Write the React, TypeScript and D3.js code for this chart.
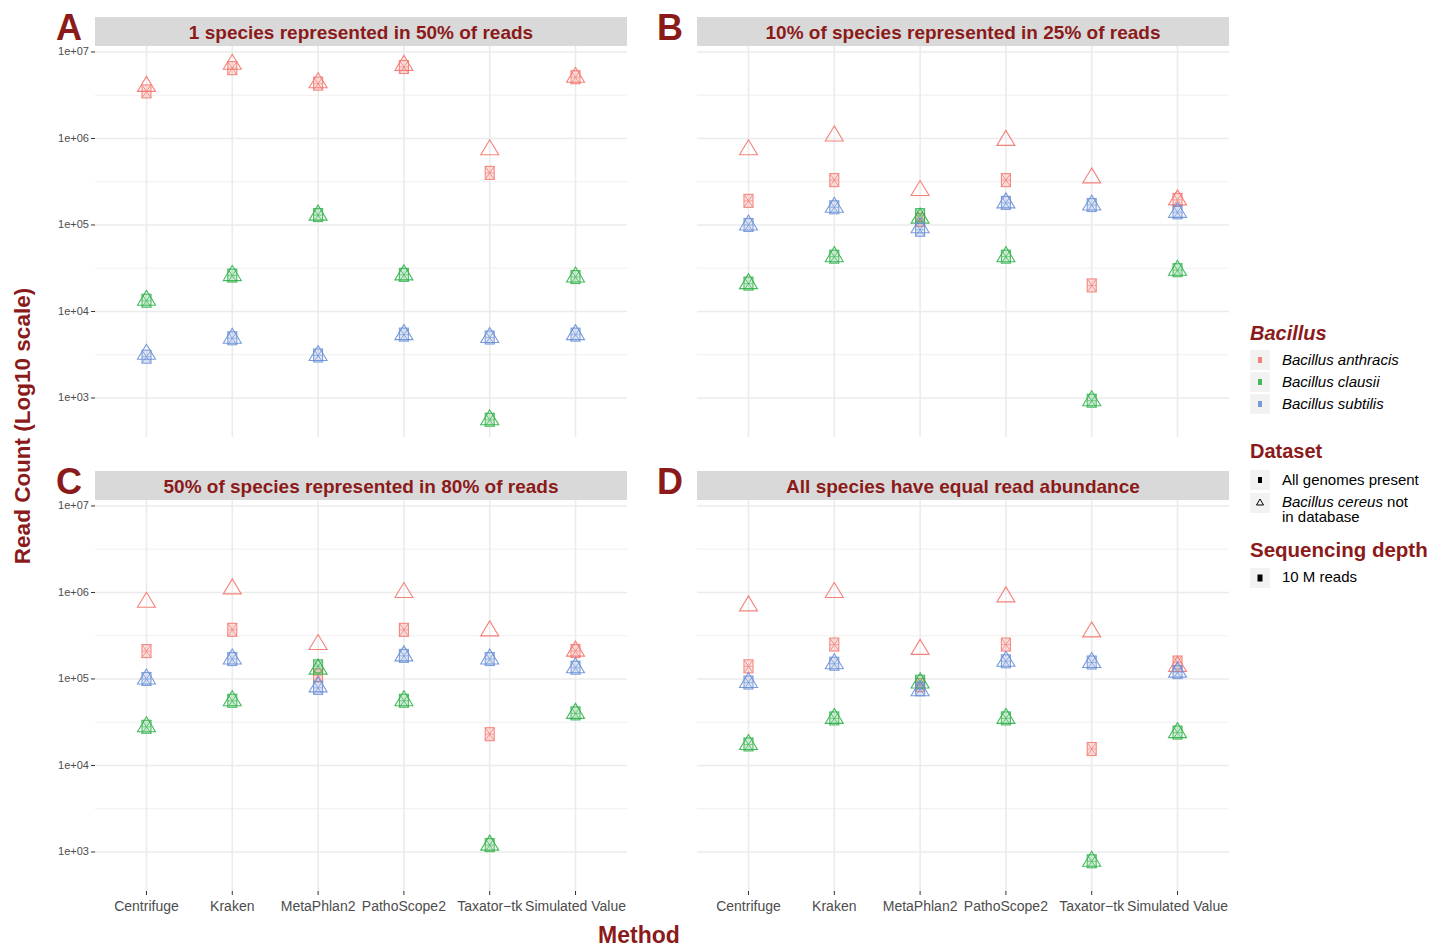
import React from 'react';
import * as d3 from 'd3';

const methods = ['Centrifuge', 'Kraken', 'MetaPhlan2', 'PathoScope2', 'Taxator\u2212tk', 'Simulated Value'];
const species = ['Bacillus anthracis', 'Bacillus clausii', 'Bacillus subtilis'];
const speciesColors = ['#F4746C', '#30B24A', '#6A90D6'];
const panelLetters = ['A', 'B', 'C', 'D'];
const panelTitles = [
  '1 species represented in 50% of reads',
  '10% of species represented in 25% of reads',
  '50% of species represented in 80% of reads',
  'All species have equal read abundance',
];
const yTicks = [1e3, 1e4, 1e5, 1e6, 1e7];
const yMinor = [10 ** 3.5, 10 ** 4.5, 10 ** 5.5, 10 ** 6.5];

// values per panel: [anthracis, clausii, subtilis] x methods
// "All genomes present"
const allA = [
  [3.5e6, 6.5e6, 4.3e6, 6.7e6, 4.0e5, 5.1e6],
  [1.33e4, 2.6e4, 1.3e5, 2.65e4, 5.6e2, 2.5e4],
  [3.0e3, 4.9e3, 3.1e3, 5.4e3, 5.0e3, 5.4e3],
];
const allB = [
  [1.9e5, 3.3e5, 1.15e5, 3.3e5, 2.0e4, 1.95e5],
  [2.1e4, 4.3e4, 1.3e5, 4.3e4, 9.3e2, 3.0e4],
  [1.0e5, 1.6e5, 8.8e4, 1.8e5, 1.7e5, 1.4e5],
];
const allC = [
  [2.1e5, 3.7e5, 1.1e5, 3.7e5, 2.3e4, 2.1e5],
  [2.8e4, 5.6e4, 1.4e5, 5.6e4, 1.2e3, 4.0e4],
  [1.0e5, 1.7e5, 7.9e4, 1.85e5, 1.7e5, 1.35e5],
];
const allD = [
  [1.4e5, 2.5e5, 8.5e4, 2.5e5, 1.55e4, 1.55e5],
  [1.75e4, 3.5e4, 9.3e4, 3.5e4, 7.8e2, 2.4e4],
  [9.1e4, 1.5e5, 7.6e4, 1.6e5, 1.55e5, 1.2e5],
];
// "Bacillus cereus not in database"
const cerA = [
  [4.0e6, 7.2e6, 4.4e6, 7.0e6, 7.4e5, 5.1e6],
  [1.35e4, 2.6e4, 1.3e5, 2.65e4, 5.6e2, 2.5e4],
  [3.2e3, 4.9e3, 3.1e3, 5.4e3, 5.0e3, 5.4e3],
];
const cerB = [
  [7.4e5, 1.07e6, 2.5e5, 9.5e5, 3.5e5, 1.95e5],
  [2.1e4, 4.3e4, 1.2e5, 4.3e4, 9.3e2, 3.0e4],
  [1.0e5, 1.6e5, 9.3e4, 1.8e5, 1.7e5, 1.4e5],
];
const cerC = [
  [7.7e5, 1.1e6, 2.5e5, 1.0e6, 3.6e5, 2.1e5],
  [2.8e4, 5.6e4, 1.3e5, 5.6e4, 1.2e3, 4.0e4],
  [1.0e5, 1.7e5, 8.1e4, 1.85e5, 1.7e5, 1.35e5],
];
const cerD = [
  [7.0e5, 1.0e6, 2.2e5, 8.9e5, 3.5e5, 1.4e5],
  [1.75e4, 3.5e4, 9.0e4, 3.5e4, 7.8e2, 2.4e4],
  [9.1e4, 1.5e5, 7.3e4, 1.6e5, 1.55e5, 1.2e5],
];

const allData = [allA, allB, allC, allD];
const cerData = [cerA, cerB, cerC, cerD];

const FONT = '"Liberation Sans", Arial, sans-serif';
const RED = '#8B1A1A';
const TXT = '#4D4D4D';

const panelX = [95, 697];
const panelW = 532;
const rows = [
  { stripTop: 17, top: 46, bottom: 437 },
  { stripTop: 471, top: 500, bottom: 891 },
];

function SquareMark({ x, y, color }: { x: number; y: number; color: string }) {
  const w = 9, h = 13;
  return (
    <g opacity={0.85}>
      <rect x={x - w / 2} y={y - h / 2} width={w} height={h} fill={color} fillOpacity={0.25} stroke={color} strokeWidth={1.1} />
      <line x1={x - w / 2} y1={y - h / 2} x2={x + w / 2} y2={y + h / 2} stroke={color} strokeWidth={0.9} />
      <line x1={x + w / 2} y1={y - h / 2} x2={x - w / 2} y2={y + h / 2} stroke={color} strokeWidth={0.9} />
      <line x1={x - w / 2} y1={y} x2={x + w / 2} y2={y} stroke={color} strokeWidth={0.7} />
    </g>
  );
}

function TriMark({ x, y, color }: { x: number; y: number; color: string }) {
  const pts = `${x},${y - 10} ${x - 9},${y + 5} ${x + 9},${y + 5}`;
  return <polygon points={pts} fill="none" stroke={color} strokeWidth={1.1} opacity={0.9} />;
}

function Panel({ idx }: { idx: number }) {
  const col = idx % 2;
  const row = Math.floor(idx / 2);
  const x0 = panelX[col];
  const { stripTop, top, bottom } = rows[row];
  const x = d3.scalePoint<string>().domain(methods).range([x0, x0 + panelW]).padding(0.6);
  const y = d3.scaleLog().domain([10 ** 2.549, 10 ** 7.069]).range([bottom, top]);
  const showY = col === 0;
  const showX = row === 1;
  const all = allData[idx];
  const cer = cerData[idx];
  return (
    <g>
      <rect x={x0} y={stripTop} width={panelW} height={top - stripTop} fill="#D9D9D9" />
      <text x={x0 + panelW / 2} y={stripTop + 22} textAnchor="middle" fontFamily={FONT} fontWeight="bold" fontSize={19} fill={RED}>
        {panelTitles[idx]}
      </text>
      <text x={col === 0 ? 56 : 657} y={stripTop + 23} fontFamily={FONT} fontWeight="bold" fontSize={36} fill={RED}>
        {panelLetters[idx]}
      </text>
      {yMinor.map((v) => (
        <line key={'mn' + v} x1={x0} x2={x0 + panelW} y1={y(v)} y2={y(v)} stroke="#EBEBEB" strokeWidth={0.8} />
      ))}
      {yTicks.map((v) => (
        <line key={'mj' + v} x1={x0} x2={x0 + panelW} y1={y(v)} y2={y(v)} stroke="#EBEBEB" strokeWidth={1.6} />
      ))}
      {methods.map((m) => (
        <line key={'vx' + m} x1={x(m)} x2={x(m)} y1={top} y2={bottom} stroke="#EBEBEB" strokeWidth={1.6} />
      ))}
      {showY &&
        yTicks.map((v) => (
          <g key={'yt' + v}>
            <line x1={x0 - 4} x2={x0} y1={y(v)} y2={y(v)} stroke="#333333" strokeWidth={1} />
            <text x={x0 - 6} y={y(v) + 3.5} textAnchor="end" fontFamily={FONT} fontSize={11} fill={TXT}>
              {d3.format('.0e')(v).replace('e+', 'e+0')}
            </text>
          </g>
        ))}
      {showX &&
        methods.map((m) => (
          <g key={'xt' + m}>
            <line x1={x(m)} x2={x(m)} y1={bottom} y2={bottom + 4} stroke="#333333" strokeWidth={1} />
            <text x={x(m)} y={bottom + 20} textAnchor="middle" fontFamily={FONT} fontSize={14} fill={TXT}>
              {m}
            </text>
          </g>
        ))}
      {species.map((s, si) =>
        methods.map((m, mi) => (
          <g key={s + m}>
            <TriMark x={x(m)!} y={y(cer[si][mi])} color={speciesColors[si]} />
            <SquareMark x={x(m)!} y={y(all[si][mi])} color={speciesColors[si]} />
          </g>
        ))
      )}
    </g>
  );
}

function Legend() {
  const kx = 1250;
  const ks = 20;
  return (
    <g fontFamily={FONT}>
      <text x={kx} y={340} fontSize={20} fontWeight="bold" fontStyle="italic" fill={RED}>Bacillus</text>
      {species.map((s, i) => (
        <g key={s}>
          <rect x={kx} y={350 + i * 22} width={ks} height={ks} fill="#F2F2F2" />
          <rect x={kx + 8} y={357 + i * 22} width={4} height={6} fill={speciesColors[i]} opacity={0.9} />
          <text x={1282} y={365 + i * 22} fontSize={15} fontStyle="italic" fill="#000">{s}</text>
        </g>
      ))}
      <text x={kx} y={458} fontSize={20} fontWeight="bold" fill={RED}>Dataset</text>
      <rect x={kx} y={470} width={ks} height={ks} fill="#F2F2F2" />
      <rect x={kx + 8} y={477} width={4} height={6} fill="#000" />
      <text x={1282} y={485} fontSize={15} fill="#000">All genomes present</text>
      <rect x={kx} y={493} width={ks} height={ks} fill="#F2F2F2" />
      <polygon points={`${kx + 10},${499} ${kx + 6.5},${505} ${kx + 13.5},${505}`} fill="none" stroke="#000" strokeWidth={1} />
      <text x={1282} y={507} fontSize={15} fill="#000">
        <tspan fontStyle="italic">Bacillus cereus</tspan> not
      </text>
      <text x={1282} y={522} fontSize={15} fill="#000">in database</text>
      <text x={kx} y={557} fontSize={20.5} fontWeight="bold" fill={RED}>Sequencing depth</text>
      <rect x={kx} y={568} width={ks} height={ks} fill="#F2F2F2" />
      <rect x={kx + 7.5} y={574.5} width={5} height={7} fill="#000" />
      <text x={1282} y={582} fontSize={15} fill="#000">10 M reads</text>
    </g>
  );
}

export default function App() {
  return (
    <svg width={1439} height={947} style={{ position: 'absolute', left: 0, top: 0, background: '#fff' }}>
      <rect width={1439} height={947} fill="#fff" />
      {[0, 1, 2, 3].map((i) => (
        <Panel key={i} idx={i} />
      ))}
      <text
        transform="translate(30,426) rotate(-90)"
        textAnchor="middle"
        fontFamily={FONT}
        fontWeight="bold"
        fontSize={22.5}
        fill={RED}
      >
        Read Count (Log10 scale)
      </text>
      <text x={639} y={943} textAnchor="middle" fontFamily={FONT} fontWeight="bold" fontSize={23} fill={RED}>
        Method
      </text>
      <Legend />
    </svg>
  );
}
